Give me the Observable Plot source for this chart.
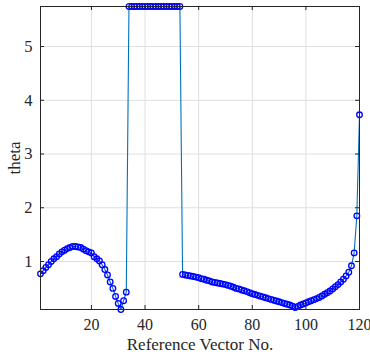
<!DOCTYPE html>
<html><head><meta charset="utf-8">
<script src="https://cdn.jsdelivr.net/npm/d3@7"></script>
<script src="https://cdn.jsdelivr.net/npm/@observablehq/plot@0.6"></script>
<style>body{margin:0;background:#fff}</style>
</head><body><div id="chart"></div>
<script>
const vectorNo = [1,2,3,4,5,6,7,8,9,10,11,12,13,14,15,16,17,18,19,20,
21,22,23,24,25,26,27,28,29,30,31,32,33,34,35,36,37,38,39,40,
41,42,43,44,45,46,47,48,49,50,51,52,53,54,55,56,57,58,59,60,
61,62,63,64,65,66,67,68,69,70,71,72,73,74,75,76,77,78,79,80,
81,82,83,84,85,86,87,88,89,90,91,92,93,94,95,96,97,98,99,100,
101,102,103,104,105,106,107,108,109,110,111,112,113,114,115,116,117,118,119,120];
const theta = [
0.77,0.83,0.89,0.94,1.00,1.05,1.09,1.14,1.18,1.21,
1.24,1.26,1.28,1.28,1.27,1.26,1.23,1.20,1.18,1.16,
1.09,1.05,1.01,0.94,0.85,0.75,0.62,0.50,0.35,0.22,
0.107,0.27,0.43,5.745,5.745,5.745,5.745,5.745,5.745,5.745,
5.745,5.745,5.745,5.745,5.745,5.745,5.745,5.745,5.745,5.745,
5.745,5.745,5.745,0.76,0.75,0.74,0.73,0.72,0.71,0.70,
0.68,0.67,0.65,0.64,0.62,0.61,0.60,0.59,0.58,0.57,
0.555,0.54,0.52,0.50,0.49,0.47,0.455,0.44,0.42,0.40,
0.385,0.37,0.355,0.34,0.325,0.31,0.295,0.28,0.265,0.25,
0.235,0.22,0.205,0.19,0.17,0.145,0.165,0.19,0.21,0.23,
0.25,0.27,0.29,0.31,0.33,0.36,0.39,0.42,0.45,0.49,
0.53,0.57,0.62,0.67,0.73,0.80,0.92,1.16,1.85,3.73];
const xTicks = [20,40,60,80,100,120];
const yTicks = [1,2,3,4,5];
const xLabel = "Reference Vector No.";
const yLabel = "theta";

const data = vectorNo.map((v, i) => ({v, t: theta[i]}));
const W = 370, H = 358, mL = 40, mR = 11, mT = 6, mB = 49;
const iw = W - mL - mR, ih = H - mT - mB, tk = 4;
const ink = "#262626";
const serif = "'Liberation Serif', 'Times New Roman', serif";

const chart = Plot.plot({
  width: W, height: H,
  marginLeft: mL, marginRight: mR, marginTop: mT, marginBottom: mB,
  style: {fontFamily: serif, fontSize: "16px", color: ink, background: "#fff", overflow: "visible"},
  x: {domain: d3.extent(vectorNo)},
  y: {domain: d3.extent(theta)},
  marks: [
    Plot.gridX(xTicks, {stroke: "#dfdfdf", strokeOpacity: 1}),
    Plot.gridY(yTicks, {stroke: "#dfdfdf", strokeOpacity: 1}),
    Plot.line(data, {x: "v", y: "t", stroke: "#0072BD", strokeWidth: 1.1}),
    Plot.dot(data, {x: "v", y: "t", r: 2.8, stroke: "#0000ff", strokeWidth: 1.3, fill: "none"}),
    Plot.frame({stroke: ink}),
    Plot.tickX(xTicks, {x: d => d, insetTop: ih - tk, stroke: ink}),
    Plot.tickX(xTicks, {x: d => d, insetBottom: ih - tk, stroke: ink}),
    Plot.tickY(yTicks, {y: d => d, insetRight: iw - tk, stroke: ink}),
    Plot.tickY(yTicks, {y: d => d, insetLeft: iw - tk, stroke: ink}),
    Plot.axisX(xTicks, {tickSize: 0, tickPadding: 9, fontSize: 16, fontFamily: serif, fontVariant: "normal", tickFormat: d3.format("d"), label: null}),
    Plot.axisY(yTicks, {tickSize: 0, tickPadding: 8, fontSize: 16.5, fontFamily: serif, fontVariant: "normal", tickFormat: d3.format("d"), label: null}),
    Plot.axisX([], {tickSize: 0, fontSize: 17, fontFamily: serif, label: xLabel, labelAnchor: "center", labelOffset: 40, labelArrow: "none"}),
    Plot.axisY([], {tickSize: 0, fontSize: 17, fontFamily: serif, label: yLabel, labelAnchor: "center", labelOffset: 33, labelArrow: "none"})
  ]
});
document.getElementById("chart").append(chart);
</script>
</body></html>
